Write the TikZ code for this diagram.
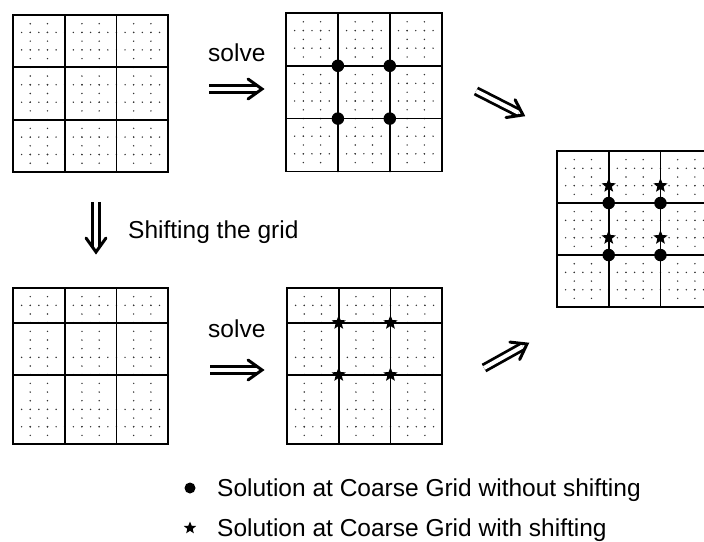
\documentclass[tikz,border=0pt]{standalone}
\usepackage{fontspec}
\setmainfont{Liberation Sans}
\usetikzlibrary{calc,shapes.geometric}
\tikzset{
  finedot/.style={fill=black!80},
  coarseline/.style={line width=1.8bp, line cap=round},
  soldot/.style={circle, fill=black, inner sep=0pt, minimum size=12.5bp},
  solstar/.style={star, star points=5, star point ratio=2.3, fill=black, inner sep=0pt, minimum size=15bp},
  dblline/.style={double, double distance=4bp, line width=2.8bp},
  chevron/.style={line width=3bp, line cap=round, line join=miter},
  lbl/.style={inner sep=0pt, anchor=base west, font=\fontsize{24.5bp}{28bp}\selectfont}
}
\newcommand\finedots{%
  \foreach \c in {2,4,8,10,14,16}{%
    \foreach \r in {1,...,17}{%
      \fill[finedot] (\c,\r) circle (0.8bp);
      \fill[finedot] (\r,\c) circle (0.8bp);
    }}}
\newcommand\coarsegrid[1]{%
  \foreach \c in {6,12} \draw[coarseline] (\c,0) -- (\c,18);
  \foreach \r in {#1} \draw[coarseline] (0,\r) -- (18,\r);
  \draw[coarseline] (0,0) rectangle (18,18);}
% double arrow from coordinate #1 to coordinate #2
\newcommand\dblarrowdraw[2]{%
  \draw[dblline] (#1) -- ($(#2)!5bp!(#1)$);
  \coordinate (#2back) at ($(#2)!14bp!(#1)$);
  \draw[chevron] ($(#2back)!10bp!90:(#2)$) -- (#2) -- ($(#2back)!10bp!-90:(#2)$);}
\begin{document}
\begin{tikzpicture}[x=1bp,y=-1bp]
\useasboundingbox (0,0) rectangle (704,542);
% grid 1
\begin{scope}[xshift=13bp,yshift=-15bp,x=8.62bp,y=-8.72bp]
  \finedots \coarsegrid{6,12}
\end{scope}
% grid 2
\begin{scope}[xshift=286bp,yshift=-13bp,x=8.65bp,y=-8.8bp]
  \finedots \coarsegrid{6,12}
  \node[soldot] (a1) at (6,6) {};
  \node[soldot] (a2) at (12,6) {};
  \node[soldot] (a3) at (6,12) {};
  \node[soldot] (a4) at (12,12) {};
\end{scope}
% grid 3
\begin{scope}[xshift=13bp,yshift=-288bp,x=8.62bp,y=-8.67bp]
  \finedots \coarsegrid{4,10}
\end{scope}
% grid 4
\begin{scope}[xshift=287bp,yshift=-288bp,x=8.62bp,y=-8.67bp]
  \finedots \coarsegrid{4,10}
  \node[solstar] (b1) at (6,4) {};
  \node[solstar] (b2) at (12,4) {};
  \node[solstar] (b3) at (6,10) {};
  \node[solstar] (b4) at (12,10) {};
\end{scope}
% grid 5
\begin{scope}[xshift=557bp,yshift=-151bp,x=8.62bp,y=-8.67bp]
  \finedots \coarsegrid{6,12}
  \node[soldot] (c1) at (6,6) {};
  \node[soldot] (c2) at (12,6) {};
  \node[soldot] (c3) at (6,12) {};
  \node[soldot] (c4) at (12,12) {};
  \node[solstar] (c5) at (6,4) {};
  \node[solstar] (c6) at (12,4) {};
  \node[solstar] (c7) at (6,10) {};
  \node[solstar] (c8) at (12,10) {};
\end{scope}
% labels
\node[lbl] (solve1) at (208,62) {solve};
\node[lbl] (solve2) at (208,337) {solve};
\node[lbl] (shift) at (128,239) {Shifting the grid};
% arrows
\coordinate (s1a) at (209,89);  \coordinate (s1b) at (262,89);
\coordinate (s2a) at (210,370); \coordinate (s2b) at (262,370);
\coordinate (da) at (96,202);   \coordinate (db) at (96,252);
\coordinate (d1a) at (476,91);  \coordinate (d1b) at (523,115);
\coordinate (d2a) at (484,368); \coordinate (d2b) at (527,344);
\dblarrowdraw{s1a}{s1b}
\dblarrowdraw{s2a}{s2b}
\dblarrowdraw{da}{db}
\dblarrowdraw{d1a}{d1b}
\dblarrowdraw{d2a}{d2b}
% legend
\node[soldot, minimum size=11bp] (ldot) at (190,488) {};
\node[solstar, minimum size=13bp] (lstar) at (190,528) {};
\node[lbl] (leg1) at (217,496) {Solution at Coarse Grid without shifting};
\node[lbl] (leg2) at (217,536) {Solution at Coarse Grid with shifting};
\end{tikzpicture}
\end{document}
